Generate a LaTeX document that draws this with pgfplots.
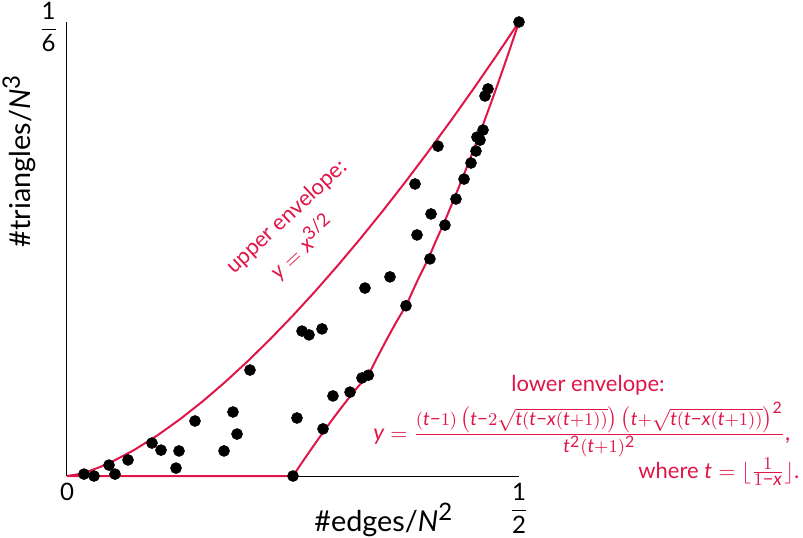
\documentclass[border=0pt]{standalone}
\usepackage{amsmath}
\usepackage{fontspec}
\setmainfont{Lato}
\usepackage[italic]{mathastext}
\usepackage{pgfplots}
\pgfplotsset{compat=1.18}
\definecolor{env}{RGB}{224,22,72}
% a true minus sign taken from the text font
\newcommand{\mn}{\mathbin{\text{−}}}
\newcommand{\tfr}[2]{\dfrac{\text{#1}}{\text{#2}}}
% superscript digits in the text font
\newcommand{\sq}[1]{^{\text{#1}}}

\begin{document}
\begin{tikzpicture}
\begin{axis}[
  scale only axis, width=226pt, height=227pt,
  xmin=0, xmax=0.5, ymin=0, ymax=0.166667,
  axis x line=bottom, axis y line=left,
  axis line style={-, line width=0.5pt, black},
  xtick={0,0.5}, xticklabels={{\large 0}, {\large$\tfr{1}{2}$}},
  ytick={0.166667}, yticklabels={{\large$\tfr{1}{6}$}},
  yticklabel style={xshift=-1pt, yshift=-2.5pt},
  major tick length=0pt,
  clip=false,
  label style={font=\Large},
  xlabel={\#edges/$N\sq{2}$}, ylabel={\#triangles/$N\sq{3}$},
  xlabel style={at={(rel axis cs:0.701,-0.097)}, anchor=center},
  ylabel style={at={(rel axis cs:-0.106,0.694)}, anchor=center},
]
% sample graphs
\addplot[only marks, mark=*, mark size=2.7pt, black] coordinates {
  (0.0188,0.0007) (0.0299,0.0000) (0.0465,0.0040) (0.0531,0.0007)
  (0.0675,0.0059) (0.0940,0.0121) (0.1040,0.0095) (0.1239,0.0092)
  (0.1206,0.0029) (0.1416,0.0202) (0.1737,0.0092) (0.1881,0.0154)
  (0.1836,0.0235) (0.2024,0.0389) (0.2544,0.0213) (0.2500,0.0000)
  (0.2832,0.0173) (0.2600,0.0532) (0.2677,0.0518) (0.2821,0.0540)
  (0.2942,0.0294) (0.3131,0.0308) (0.3263,0.0360) (0.3333,0.0370)
  (0.3296,0.0690) (0.3573,0.0731) (0.3750,0.0625) (0.3872,0.0885)
  (0.4015,0.0797) (0.4027,0.0962) (0.4181,0.0921) (0.3850,0.1072)
  (0.4104,0.1211) (0.4303,0.1017) (0.4392,0.1090) (0.4469,0.1149)
  (0.4524,0.1193) (0.4569,0.1233) (0.4535,0.1244) (0.4602,0.1270)
  (0.4624,0.1395) (0.4657,0.1421) (0.5000,0.166667)
};
% upper envelope (Kruskal--Katona)
\addplot[env, line width=1pt] coordinates {
  (0,0) (0.0125,0.000659) (0.025,0.001863) (0.0375,0.003423) (0.05,0.005270)
  (0.075,0.009683) (0.1,0.014907) (0.125,0.020833) (0.15,0.027386)
  (0.175,0.034511) (0.2,0.042164) (0.225,0.050312) (0.25,0.058926)
  (0.275,0.067981) (0.3,0.077460) (0.325,0.087341) (0.35,0.097610)
  (0.375,0.108253) (0.4,0.119257) (0.425,0.130610) (0.45,0.142303)
  (0.475,0.154324) (0.5,0.166667)
};
% lower envelope (Razborov)
\addplot[env, line width=1pt] coordinates {
  (0,0) (0.25,0) (0.2604,0.005153) (0.27085,0.010188) (0.28125,0.015102)
  (0.29165,0.019875) (0.3021,0.024497) (0.3125,0.028935) (0.3229,0.033157)
  (0.33333,0.037037) (0.34375,0.043867) (0.35417,0.050447) (0.36458,0.056713)
  (0.375,0.0625) (0.3875,0.07162) (0.4,0.08) (0.40833,0.086513)
  (0.41667,0.092593) (0.42857,0.10204) (0.4375,0.109375) (0.44444,0.115226)
  (0.45,0.12) (0.454545,0.123967) (0.458333,0.127315) (0.461538,0.130178)
  (0.46875,0.13672) (0.47619,0.143613) (0.48387,0.150885) (0.490196,0.156991)
  (0.5,0.166667)
};
\end{axis}
% annotations, in pt from the lower left corner of the axis
\begin{scope}[every node/.style={env, font=\fontsize{11}{13}\selectfont}]
\node[rotate=43] at (110pt,129.5pt) {upper envelope:};
\node[rotate=43] at (117.5pt,114.5pt) {$y = x^{\text{3}/\text{2}}$};
\node at (260.5pt,45.5pt) {lower envelope:};
\node[anchor=base west, inner sep=0pt, font=\fontsize{11.35}{13}\selectfont] at (153pt,18pt)
  {$y = \frac{(t\mn 1)\,\bigl(t\mn 2\sqrt{t(t\mn x(t+1))}\bigr)\,\bigl(t+\sqrt{t(t\mn x(t+1))}\bigr)\sq{2}}{t\sq{2}(t+1)\sq{2}}$,};
\node[anchor=base west, inner sep=0pt] at (285.5pt,-1pt)
  {where $t = \lfloor\frac{1}{1\mn x}\rfloor$.};
\end{scope}
\pgfresetboundingbox
\path (-33.5pt,-30.5pt) rectangle (368pt,238pt);
\end{tikzpicture}
\end{document}
